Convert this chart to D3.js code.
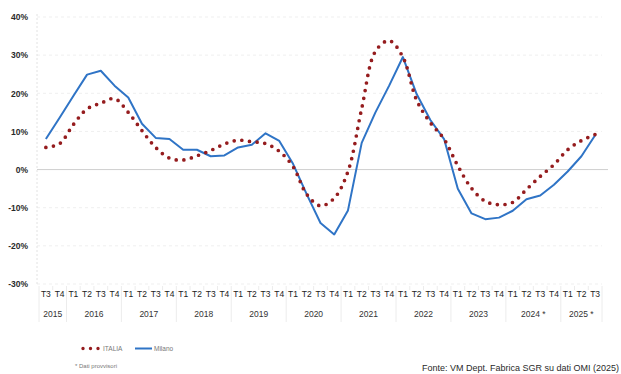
<!DOCTYPE html>
<html>
<head>
<meta charset="utf-8">
<script src="https://cdn.jsdelivr.net/npm/d3@7"></script>
<style>
  html, body { margin: 0; padding: 0; background: #fff; }
  svg { display: block; font-family: "Liberation Sans", Arial, sans-serif; }
</style>
</head>
<body>
<svg id="chart" width="621" height="374"></svg>
<script>
// Quarterly periods, 2015 T3 – 2025 T3
const quarterLabels = [
  "T3","T4",
  "T1","T2","T3","T4", "T1","T2","T3","T4", "T1","T2","T3","T4",
  "T1","T2","T3","T4", "T1","T2","T3","T4", "T1","T2","T3","T4",
  "T1","T2","T3","T4", "T1","T2","T3","T4", "T1","T2","T3","T4",
  "T1","T2","T3"
];
const yearLabels = ["2015","2016","2017","2018","2019","2020","2021","2022","2023","2024 *","2025 *"];
const yearQuarterCounts = [2,4,4,4,4,4,4,4,4,4,3];

// Year-on-year change (%)
const italia = [5.8, 6.8, 11.8, 15.9, 17.4, 18.6, 15.0, 10.2, 5.8, 3.0, 2.5, 3.6, 5.0, 6.7, 7.7, 7.3,
  6.8, 4.8, 0.8, -6.5, -9.5, -7.5, -0.5, 16.0, 31.0, 33.8, 29.5, 18.2, 12.3, 8.0, 1.0, -4.9,
  -8.3, -9.2, -8.6, -5.2, -1.8, 1.3, 5.2, 7.6, 9.2];
const milano = [8.0, 13.6, 19.3, 24.9, 25.9, 22.0, 18.9, 12.0, 8.3, 8.0, 5.2, 5.2, 3.5, 3.7, 5.8, 6.5,
  9.5, 7.5, 1.5, -6.5, -14.0, -17.0, -10.7, 7.0, 15.0, 22.0, 29.5, 19.8, 13.0, 8.0, -5.0, -11.5,
  -13.0, -12.6, -10.8, -7.8, -6.8, -4.0, -0.5, 3.5, 9.0];
const yTicks = [-30, -20, -10, 0, 10, 20, 30, 40];

const seriesNames = ["ITALIA", "Milano"];
const sourceNote = "Fonte: VM Dept. Fabrica SGR su dati OMI (2025)";
const footNote = "* Dati provvisori";

const svg = d3.select("#chart");
const plotLeft = 39, plotRight = 602, plotTop = 17, plotBottom = 284;

const idx = d3.range(quarterLabels.length);
const x = d3.scaleBand().domain(idx).range([plotLeft, plotRight]).padding(0);
const cx = i => x(i) + x.bandwidth() / 2;
const y = d3.scaleLinear().domain([-30, 40]).range([plotBottom, plotTop]);

// Horizontal gridlines
svg.append("g")
  .selectAll("line").data(yTicks.filter(d => d !== 0)).join("line")
  .attr("x1", plotLeft - 2).attr("x2", plotRight)
  .attr("y1", d => y(d)).attr("y2", d => y(d))
  .attr("stroke", "#efefef").attr("stroke-width", 1)
  .attr("stroke-dasharray", "3,3");

// Zero line
svg.append("line")
  .attr("x1", plotLeft - 2).attr("x2", plotRight + 6)
  .attr("y1", y(0)).attr("y2", y(0))
  .attr("stroke", "#cfcfcf").attr("stroke-width", 1);

// Vertical axis line
svg.append("line")
  .attr("x1", plotLeft - 2).attr("x2", plotLeft - 2)
  .attr("y1", plotTop - 3).attr("y2", plotBottom + 2)
  .attr("stroke", "#e2e2e2").attr("stroke-width", 1)
  .attr("stroke-dasharray", "2,2");

// Y axis labels
const yAxis = d3.axisLeft(y).tickValues(yTicks).tickSize(0).tickPadding(0)
  .tickFormat(d => d + "%");
const gy = svg.append("g").attr("transform", `translate(${28},0)`).call(yAxis);
gy.select(".domain").remove();
gy.selectAll("text")
  .attr("fill", "#2a2a2a").attr("font-size", "8.5px").attr("font-weight", "bold")
  .attr("font-family", "'Liberation Sans', Arial, sans-serif");

// Category separators in the label area
const boundaries = d3.range(quarterLabels.length + 1).map(i => plotLeft + i * x.bandwidth());
let yearBounds = [0];
yearQuarterCounts.reduce((acc, c) => { yearBounds.push(acc + c); return acc + c; }, 0);
svg.append("g")
  .selectAll("line").data(d3.range(quarterLabels.length + 1)).join("line")
  .attr("x1", i => boundaries[i]).attr("x2", i => boundaries[i])
  .attr("y1", plotBottom + 2)
  .attr("y2", i => yearBounds.includes(i) ? 322 : 290)
  .attr("stroke", "#ececec").attr("stroke-width", 1);

// Quarter labels
const xAxis = d3.axisBottom(x).tickSize(0).tickPadding(0).tickFormat(i => quarterLabels[i]);
const gx = svg.append("g").attr("transform", `translate(0,${291})`).call(xAxis);
gx.select(".domain").remove();
gx.selectAll("text")
  .attr("fill", "#222").attr("font-size", "8.5px")
  .attr("font-family", "'Liberation Sans', Arial, sans-serif");

// Year labels, centred under their quarters
svg.append("g")
  .selectAll("text").data(yearLabels).join("text")
  .attr("x", (d, k) => {
    const a = yearBounds[k], b = yearBounds[k + 1] - 1;
    return (cx(a) + cx(b)) / 2;
  })
  .attr("y", 317)
  .attr("text-anchor", "middle")
  .attr("fill", "#333").attr("font-size", "8.5px")
  .text(d => d);

// Series lines
const linearLine = d3.line().x((d, i) => cx(i)).y(d => y(d));
const smoothLine = d3.line().x((d, i) => cx(i)).y(d => y(d)).curve(d3.curveCatmullRom.alpha(0.5));

svg.append("path").datum(milano)
  .attr("d", linearLine)
  .attr("fill", "none").attr("stroke", "#2f74c6").attr("stroke-width", 2)
  .attr("stroke-linejoin", "round");

svg.append("path").datum(italia)
  .attr("d", smoothLine)
  .attr("fill", "none").attr("stroke", "#951c1e").attr("stroke-width", 3.7)
  .attr("stroke-linecap", "round").attr("stroke-dasharray", "0,7.7");

// Legend
const leg = svg.append("g");
leg.append("line")
  .attr("x1", 83).attr("x2", 99).attr("y1", 348.5).attr("y2", 348.5)
  .attr("stroke", "#951c1e").attr("stroke-width", 3.4)
  .attr("stroke-linecap", "round").attr("stroke-dasharray", "0,7.5");
leg.append("text").attr("x", 103).attr("y", 351)
  .attr("font-size", "6.5px").attr("fill", "#777").text(seriesNames[0]);
leg.append("line")
  .attr("x1", 135).attr("x2", 152).attr("y1", 348.5).attr("y2", 348.5)
  .attr("stroke", "#2f74c6").attr("stroke-width", 2);
leg.append("text").attr("x", 154).attr("y", 351)
  .attr("font-size", "6.5px").attr("fill", "#777").text(seriesNames[1]);

// Notes
svg.append("text").attr("x", 75).attr("y", 368)
  .attr("font-size", "6px").attr("fill", "#777").text(footNote);
svg.append("text").attr("x", 619).attr("y", 371).attr("text-anchor", "end")
  .attr("font-size", "9px").attr("fill", "#2a2a2a").text(sourceNote);
</script>
</body>
</html>
